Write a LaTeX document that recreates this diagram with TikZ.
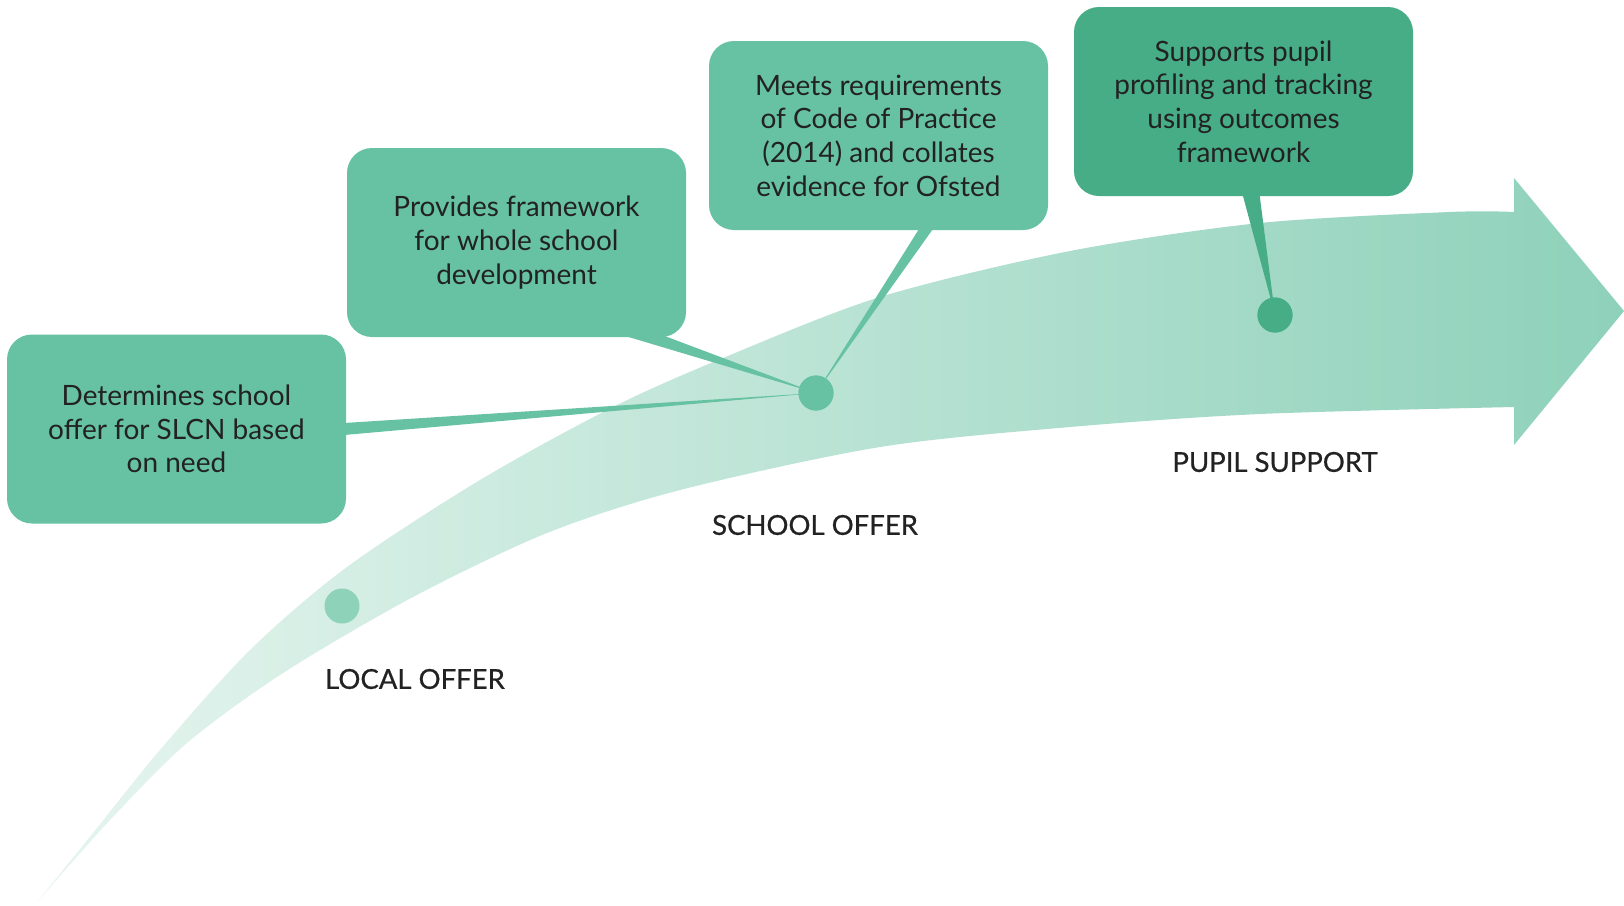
\documentclass[tikz,border=0pt]{standalone}
\usepackage{fontspec}
\setmainfont{Lato}
\newfontfamily\labfont{Lato}[FakeBold=0.6]
\usetikzlibrary{calc}
\definecolor{boxA}{HTML}{66C2A2}
\definecolor{boxB}{HTML}{46AD86}
\definecolor{dotL}{HTML}{8FD2BA}
\definecolor{arrL}{HTML}{E6F5EF}
\definecolor{arrR}{HTML}{8ED1BA}
\definecolor{txt}{HTML}{222222}
\begin{document}
\begin{tikzpicture}[x=1pt,y=-1pt,
  infobox/.style={rectangle, rounded corners=25pt, minimum width=339pt, minimum height=189pt,
    inner sep=0pt, align=center, text=txt, font=\fontsize{28}{33.7}\selectfont},
  stage/.style={text=txt, inner sep=0pt, font=\labfont\fontsize{27.5}{30}\selectfont},
  dot/.style={circle, inner sep=0pt, minimum size=35pt}]
\useasboundingbox (0,0) rectangle (1624,905);
\fill[white] (0,0) rectangle (1624,905);
% big curved arrow
\shade[left color=arrL, right color=arrR]
  plot[smooth, tension=0.5] coordinates {(38,901) (93,833) (160,750) (250,650) (347,567) (480,480) (613,407) (723,358) (880,297) (1070,251) (1260,223) (1450,212) (1514,212)}
  -- (1514,178) -- (1624,311) -- (1514,445)
  -- plot[smooth, tension=0.5] coordinates {(1514,407) (1260,414) (1070,427) (880,447) (680,490) (547,533) (413,597) (283,673) (187,743) (110,820) (38,901)}
  -- cycle;
% dots (positions)
\node[dot, fill=dotL] (d1) at (342,606) {};
\node[dot, fill=boxA] (d2) at (816,393) {};
\node[dot, fill=boxB] (d3) at (1275,315) {};
% boxes
\node[infobox, fill=boxA] (b1) at (176.5,429) {Determines school\\offer for SLCN based\\on need};
\node[infobox, fill=boxA] (b2) at (516.5,242.5) {Provides framework\\for whole school\\development};
\node[infobox, fill=boxA] (b3) at (878.5,135.5) {Meets requirements\\of Code of Practice\\(2014) and collates\\evidence for Ofsted};
\node[infobox, fill=boxB] (b4) at (1243.5,101.5) {Supports pupil\\profiling and tracking\\using outcomes\\framework};
% wedge connectors
\fill[boxA] ($(b1.east)+(-2,-6)$) -- ($(b1.east)+(-2,6)$) -- (d2.center) -- cycle;
\fill[boxA] ($(b2.south)+(106,-2)$) -- ($(b2.south)+(146,-2)$) -- (d2.center) -- cycle;
\fill[boxA] ($(b3.south)+(41,-2)$) -- ($(b3.south)+(55,-2)$) -- (d2.center) -- cycle;
\fill[boxB] ($(b4.south)+(-1,-2)$) -- ($(b4.south)+(16,-2)$) -- (d3.center) -- cycle;
% redraw dots on top
\fill[boxA] (d2) circle (17.5);
\fill[boxB] (d3) circle (17.5);
% stage labels
\node[stage] (l1) at (415,679) {LOCAL OFFER};
\node[stage] (l2) at (815,525) {SCHOOL OFFER};
\node[stage] (l3) at (1275,462) {PUPIL SUPPORT};
\end{tikzpicture}
\end{document}
